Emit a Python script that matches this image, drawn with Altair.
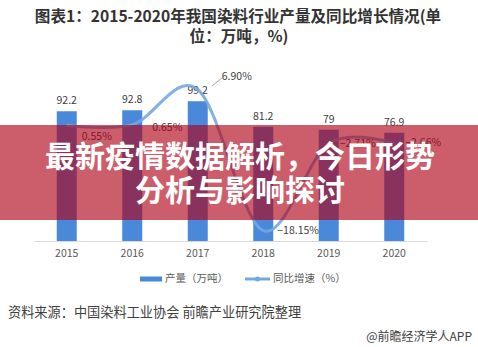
import altair as alt
import pandas as pd

years = ["2015", "2016", "2017", "2018", "2019", "2020"]
production = [92.2, 92.8, 99.2, 81.2, 79, 76.9]
growth = [0.55, 0.65, 6.90, -18.15, -2.71, -2.66]
left_ticks = [0, 20, 40, 60, 80, 100, 120]
right_ticks = [-20, -15, -10, -5, 0, 5, 10]

title_lines = ["图表1：2015-2020年我国染料行业产量及同比增长情况(单", "位：万吨，%)"]
banner_lines = ["最新疫情数据解析，今日形势", "分析与影响探讨"]
legend_labels = ["产量（万吨）", "同比增速（%）"]
source_text = "资料来源：中国染料工业协会 前瞻产业研究院整理"
credit_text = "@前瞻经济学人APP"

df = pd.DataFrame({"year": years, "prod": production, "g": growth})

FONT = "Noto Sans CJK SC"
BAR = "#4a88da"
LINE = "#74a7df"
LABEL = "#595959"
TEXT = "#404040"

x_enc = alt.X(
    "year:O",
    scale=alt.Scale(paddingInner=0, paddingOuter=0),
    axis=alt.Axis(title=None, labelAngle=0, ticks=False, domainColor="#d9d9d9",
                  labelColor=LABEL, labelFontSize=10.5, labelFont=FONT, labelPadding=7,
                  grid=False),
)
xn = alt.X("year:O")

bars = alt.Chart(df).mark_bar(size=20, color=BAR).encode(
    x=x_enc,
    y=alt.Y("prod:Q", scale=alt.Scale(domain=[0, 120], nice=False),
            axis=alt.Axis(values=left_ticks, title=None, domain=False, ticks=False, grid=False,
                          labelColor=LABEL, labelFontSize=10.5, labelFont=FONT, labelPadding=11)),
)
bar_labels = alt.Chart(df).mark_text(baseline="bottom", dy=-5, font=FONT, fontSize=10.5, color=TEXT).encode(
    x=xn, y=alt.Y("prod:Q", axis=None), text=alt.Text("prod:Q"),
)
left_layer = alt.layer(bars, bar_labels)

gy = alt.Y("g:Q", scale=alt.Scale(domain=[-20, 10], nice=False),
           axis=alt.Axis(orient="right", values=right_ticks, title=None, domain=False, ticks=False,
                         grid=False, labelColor=LABEL, labelFontSize=10.5, labelFont=FONT,
                         labelPadding=10, labelExpr="format(datum.value, '.2f') + '%'"))
line = alt.Chart(df).mark_line(interpolate="cardinal", color=LINE, strokeWidth=3, opacity=0.9).encode(
    x=xn, y=gy,
)


def glabel(year, dx, dy):
    return alt.Chart(df).transform_filter(alt.datum.year == year).transform_calculate(
        lbl="format(datum.g, '.2f') + '%'"
    ).mark_text(align="left", baseline="middle", dx=dx, dy=dy, font=FONT, fontSize=10.5,
                color=TEXT).encode(x=xn, y=alt.Y("g:Q", axis=None), text="lbl:N")


right_layer = alt.layer(
    line,
    glabel("2015", 15, 12),
    glabel("2016", 20, 3),
    glabel("2017", 24, -12),
    glabel("2018", 14, 0),
    glabel("2019", 11, 0),
    glabel("2020", 11, 0),
)

one = alt.Data(values=[{}])

leader = alt.Chart(one).mark_rule(color="#a6a6a6", strokeWidth=1).encode(
    x=alt.value(178), y=alt.value(14), x2=alt.value(188), y2=alt.value(6))

banner = alt.Chart(one).mark_rect(color="#af0014", opacity=0.63).encode(
    x=alt.value(-34), x2=alt.value(444), y=alt.value(53), y2=alt.value(148))


def txt(s, x, y, size, color, weight="normal", align="center"):
    return alt.Chart(one).mark_text(font=FONT, fontSize=size, color=color, fontWeight=weight,
                                    align=align, baseline="middle").encode(
        x=alt.value(x), y=alt.value(y), text=alt.value(s))


legend_bar = alt.Chart(one).mark_rect(color=BAR).encode(
    x=alt.value(106), x2=alt.value(128), y=alt.value(204.5), y2=alt.value(209.5))
legend_line = alt.Chart(one).mark_rule(color=LINE, strokeWidth=3).encode(
    x=alt.value(211), x2=alt.value(236), y=alt.value(207))
legend_dot = alt.Chart(one).mark_point(filled=True, color=LINE, size=25, opacity=1).encode(
    x=alt.value(223.5), y=alt.value(207))

chart = alt.layer(
    left_layer,
    right_layer,
    leader,
    banner,
    txt(banner_lines[0], 206, 86, 30, "white", "bold"),
    txt(banner_lines[1], 206, 120, 30, "white", "bold"),
    txt(title_lines[0], 204, -55, 15.6, "#333333", "bold"),
    txt(title_lines[1], 205, -35, 15.6, "#333333", "bold"),
    legend_bar, legend_line, legend_dot,
    txt(legend_labels[0], 131, 207, 10.5, LABEL, align="left"),
    txt(legend_labels[1], 239, 207, 10.5, LABEL, align="left"),
    txt(source_text, -26, 241, 13.2, TEXT, align="left"),
    txt(credit_text, 438, 265, 12, TEXT, align="right"),
).resolve_scale(y="independent").properties(
    width=393, height=169,
    padding={"left": 34, "top": 72, "right": 51, "bottom": 106},
    autosize=alt.AutoSizeParams(type="none"),
    background="white",
).configure_view(stroke=None)

chart.save("out.html", embed_options={"renderer": "svg", "actions": False})
